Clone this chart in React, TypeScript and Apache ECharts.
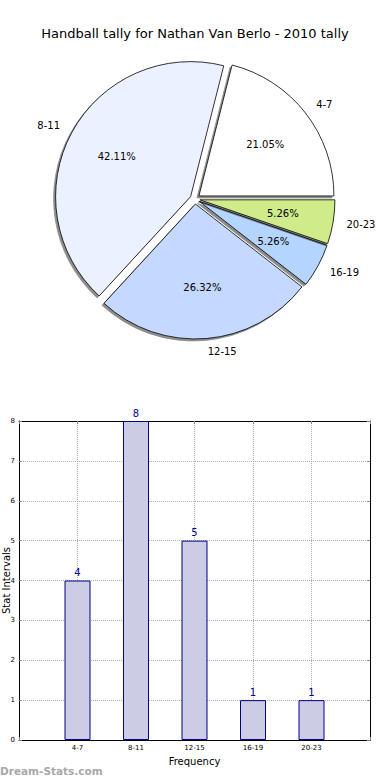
import React, { useEffect, useRef } from "react";
import * as echarts from "echarts";

const categories = ["4-7", "8-11", "12-15", "16-19", "20-23"];
const tally = [4, 8, 5, 1, 1];
const sliceColors = ["#FFFFFF", "#EBF1FF", "#C5D8FF", "#B4D5FF", "#CFEB8A"];
const yTicks = [0, 1, 2, 3, 4, 5, 6, 7, 8];

const FONT = "DejaVu Sans";

export default function App() {
  const ref = useRef<HTMLDivElement>(null);
  useEffect(() => {
    if (!ref.current) return;
    const chart = echarts.init(ref.current, undefined, { renderer: "svg" });
    const R = 135;
    const pieData = categories.map((c, i) => ({
      name: c,
      value: tally[i],
      selected: true,
      itemStyle: { color: sliceColors[i] },
    }));
    const axisLineStyle = { show: true, onZero: false, lineStyle: { color: "#000", width: 1 } };
    const tickStyle = { show: true, inside: true, length: 3, lineStyle: { color: "#888" } };
    const option: any = {
      animation: false,
      backgroundColor: "#FFFFFF",
      textStyle: { fontFamily: FONT },
      title: {
        text: "Handball tally for Nathan Van Berlo - 2010 tally",
        left: "center",
        top: 22,
        textStyle: { fontFamily: FONT, fontSize: 13, fontWeight: "normal", color: "#000" },
      },
      graphic: [
        {
          type: "text",
          left: 0,
          top: 765,
          style: {
            text: "Dream-Stats.com",
            fontFamily: FONT,
            fontSize: 10.5,
            fontWeight: "bold",
            fill: "#A8A8A8",
          },
        },
      ],
      grid: {
        left: 19,
        right: 20,
        top: 421,
        bottom: 40,
        show: false,
        containLabel: false,
        outerBoundsMode: "none",
      },
      xAxis: [
        {
          type: "value",
          min: -1,
          max: 5,
          interval: 1,
          position: "bottom",
          name: "Frequency",
          nameLocation: "middle",
          nameGap: 16,
          nameMoveOverlap: false,
          nameTextStyle: { fontFamily: FONT, fontSize: 10, color: "#000" },
          axisLine: axisLineStyle,
          axisTick: tickStyle,
          axisLabel: {
            fontFamily: FONT,
            fontSize: 7,
            color: "#000",
            margin: 4,
            formatter: (v: number) => (v >= 0 && v < categories.length ? categories[v] : ""),
          },
          splitLine: { show: true, lineStyle: { color: "#B0B0B0", type: "dotted", width: 1 } },
        },
        {
          type: "value",
          min: -1,
          max: 5,
          interval: 1,
          position: "top",
          axisLine: axisLineStyle,
          axisTick: tickStyle,
          axisLabel: { show: false },
          splitLine: { show: false },
        },
      ],
      yAxis: [
        {
          type: "value",
          min: 0,
          max: 8,
          interval: 1,
          position: "left",
          name: "Stat Intervals",
          nameLocation: "middle",
          nameGap: 8,
          nameMoveOverlap: false,
          nameTextStyle: { fontFamily: FONT, fontSize: 10, color: "#000" },
          axisLine: axisLineStyle,
          axisTick: tickStyle,
          axisLabel: {
            fontFamily: FONT,
            fontSize: 7,
            color: "#000",
            margin: 4,
            formatter: (v: number) => (yTicks.includes(v) ? String(v) : ""),
          },
          splitLine: { show: true, lineStyle: { color: "#B0B0B0", type: "dotted", width: 1 } },
        },
        {
          type: "value",
          min: 0,
          max: 8,
          interval: 1,
          position: "right",
          axisLine: axisLineStyle,
          axisTick: tickStyle,
          axisLabel: { show: false },
          splitLine: { show: false },
        },
      ],
      series: [
        {
          type: "pie",
          center: [195, 199],
          radius: [0, R],
          startAngle: 0,
          clockwise: false,
          selectedMode: "multiple",
          selectedOffset: 5,
          avoidLabelOverlap: false,
          data: pieData,
          itemStyle: {
            borderColor: "#000",
            borderWidth: 0.8,
            shadowColor: "rgba(0,0,0,0.45)",
            shadowBlur: 1,
            shadowOffsetX: -2,
            shadowOffsetY: 2,
          },
          label: {
            show: true,
            position: "outside",
            formatter: "{b}",
            fontFamily: FONT,
            fontSize: 10,
            color: "#000",
            distanceToLabelLine: 0,
          },
          labelLine: { show: false, length: R * 0.1, length2: 0 },
          emphasis: { disabled: true },
          silent: true,
        },
        {
          type: "pie",
          center: [195, 199],
          radius: [0, R * 1.2],
          startAngle: 0,
          clockwise: false,
          selectedMode: "multiple",
          selectedOffset: 5,
          avoidLabelOverlap: false,
          percentPrecision: 2,
          data: categories.map((c, i) => ({ name: c, value: tally[i], selected: true })),
          itemStyle: { color: "rgba(0,0,0,0)", borderWidth: 0 },
          label: {
            show: true,
            position: "inside",
            formatter: "{d}%",
            fontFamily: FONT,
            fontSize: 10,
            color: "#000",
          },
          labelLine: { show: false },
          emphasis: { disabled: true },
          silent: true,
        },
        {
          type: "bar",
          xAxisIndex: 0,
          yAxisIndex: 0,
          barWidth: 26,
          data: tally.map((v, i) => [i, v]),
          itemStyle: { color: "#CCCCE5", borderColor: "#00008B", borderWidth: 1 },
          label: {
            show: true,
            position: "top",
            distance: 3,
            fontFamily: FONT,
            fontSize: 10,
            color: "#00008B",
            formatter: (p: any) => String(p.value[1]),
          },
          emphasis: { disabled: true },
          silent: true,
        },
      ],
    };
    chart.setOption(option);
    return () => chart.dispose();
  }, []);
  return <div ref={ref} style={{ width: 390, height: 780, position: "absolute", left: 0, top: 0 }} />;
}
